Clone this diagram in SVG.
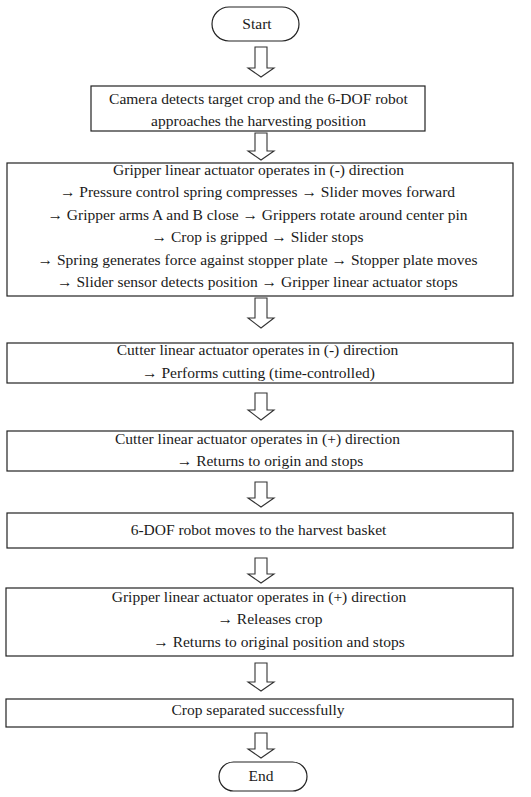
<svg xmlns="http://www.w3.org/2000/svg" width="531" height="797" viewBox="0 0 531 797">
<style>
  .box { fill: #ffffff; stroke: #222222; stroke-width: 1.2; }
  .arr { fill: #ffffff; stroke: #333333; stroke-width: 1.1; stroke-linejoin: miter; }
  text { font-family: "Liberation Serif", "Times New Roman", serif; font-size: 15.5px; fill: #1a1a1a; text-anchor: middle; }
</style>
<rect width="531" height="797" fill="#ffffff"/>

<g id="connectors">
  <path class="arr" d="M 255 47 L 267 47 L 267 68 L 274 68 L 261 77 L 248 68 L 255 68 Z"/>
  <path class="arr" d="M 255 133 L 267 133 L 267 151 L 274 151 L 261 160 L 248 151 L 255 151 Z"/>
  <path class="arr" d="M 255 298 L 267 298 L 267 318 L 274 318 L 261 328 L 248 318 L 255 318 Z"/>
  <path class="arr" d="M 255 393 L 267 393 L 267 410 L 274 410 L 261 420 L 248 410 L 255 410 Z"/>
  <path class="arr" d="M 255 482 L 267 482 L 267 498 L 274 498 L 261 507 L 248 498 L 255 498 Z"/>
  <path class="arr" d="M 255 558 L 267 558 L 267 574 L 274 574 L 261 583 L 248 574 L 255 574 Z"/>
  <path class="arr" d="M 255 663 L 267 663 L 267 682 L 274 682 L 261 691 L 248 682 L 255 682 Z"/>
  <path class="arr" d="M 255 733 L 267 733 L 267 749 L 274 749 L 261 758 L 248 749 L 255 749 Z"/>
</g>

<g id="start">
  <rect class="box" x="212" y="7" width="87" height="34" rx="17" ry="17"/>
  <text x="257" y="29">Start</text>
</g>

<g id="step1">
  <rect class="box" x="91" y="86" width="334" height="45"/>
  <text x="258.5" y="104">Camera detects target crop and the 6-DOF robot</text>
  <text x="258.5" y="126">approaches the harvesting position</text>
</g>

<g id="step2">
  <rect class="box" x="7" y="163" width="506" height="133"/>
  <text x="258.5" y="175">Gripper linear actuator operates in (-) direction</text>
  <text x="257.5" y="197">→ Pressure control spring compresses → Slider moves forward</text>
  <text x="257.5" y="220">→ Gripper arms A and B close → Grippers rotate around center pin</text>
  <text x="257.5" y="242">→ Crop is gripped → Slider stops</text>
  <text x="257.5" y="265">→ Spring generates force against stopper plate → Stopper plate moves</text>
  <text x="257.5" y="287">→ Slider sensor detects position → Gripper linear actuator stops</text>
</g>

<g id="step3">
  <rect class="box" x="7" y="343" width="506" height="40"/>
  <text x="257.5" y="355">Cutter linear actuator operates in (-) direction</text>
  <text x="258.5" y="378">→ Performs cutting (time-controlled)</text>
</g>

<g id="step4">
  <rect class="box" x="7" y="431" width="506" height="40"/>
  <text x="257.5" y="444">Cutter linear actuator operates in (+) direction</text>
  <text x="270" y="466">→ Returns to origin and stops</text>
</g>

<g id="step5">
  <rect class="box" x="7" y="513" width="506" height="35"/>
  <text x="258.5" y="535">6-DOF robot moves to the harvest basket</text>
</g>

<g id="step6">
  <rect class="box" x="6" y="588" width="507" height="68"/>
  <text x="259" y="602">Gripper linear actuator operates in (+) direction</text>
  <text x="270" y="624">→ Releases crop</text>
  <text x="279" y="647">→ Returns to original position and stops</text>
</g>

<g id="step7">
  <rect class="box" x="6" y="699" width="507" height="28"/>
  <text x="258" y="715">Crop separated successfully</text>
</g>

<g id="end">
  <rect class="box" x="219" y="762" width="88" height="29" rx="14.5" ry="14.5"/>
  <text x="261" y="781">End</text>
</g>
</svg>
